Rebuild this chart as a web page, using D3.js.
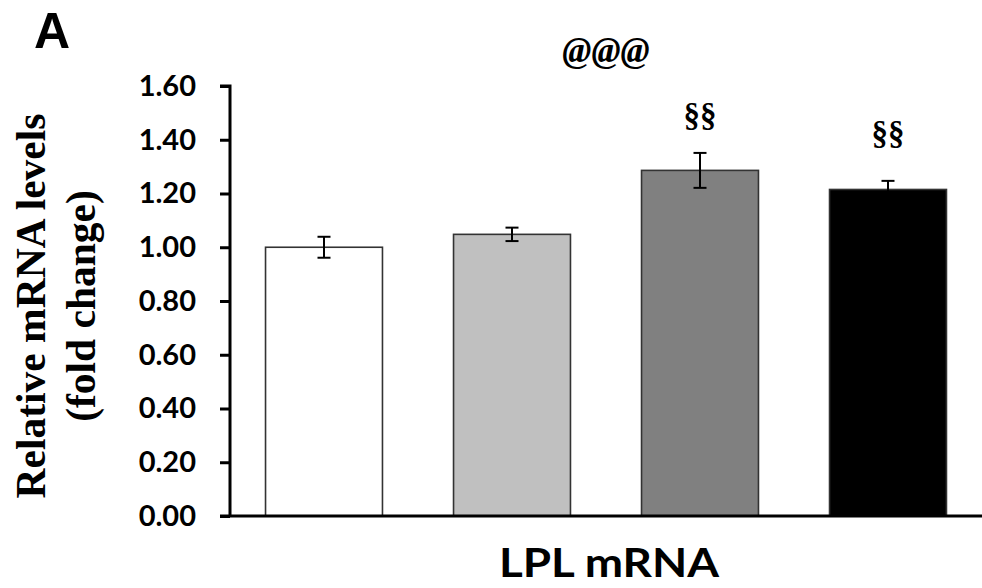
<!DOCTYPE html>
<html>
<head>
<meta charset="utf-8">
<script src="https://cdn.jsdelivr.net/npm/d3@7"></script>
<style>
  html, body { margin: 0; padding: 0; background: #fff; }
  svg { display: block; }
</style>
</head>
<body>
<svg id="chart" width="982" height="588"></svg>
<script>
// ---- data ----
const groups = ["G1", "G2", "G3", "G4"];
const values = [1.00, 1.048, 1.286, 1.215];
const errors = [0.039, 0.025, 0.065, 0.032];
const barColors = ["#ffffff", "#c0c0c0", "#808080", "#000000"];
const yTicks = [0, 0.2, 0.4, 0.6, 0.8, 1.0, 1.2, 1.4, 1.6];
const sigLabels = ["", "", "§§", "§§"];
const sigLevels = [null, null, 1.452, 1.385];
const topLabel = "@@@";
const topLabelLevel = 1.69;
const xTitle = "LPL mRNA";
const yTitleLines = ["Relative mRNA levels", "(fold change)"];
const panelLetter = "A";

// ---- layout ----
const svg = d3.select("#chart");
const x0 = 230, x1 = 982, yBottom = 516, yTop = 86;

const x = d3.scaleBand().domain(groups).range([x0, x1]).paddingInner(0.378).paddingOuter(0.189);
const y = d3.scaleLinear().domain([0, 1.6]).range([yBottom, yTop]);

// bars
svg.append("g").selectAll("rect").data(groups).join("rect")
  .attr("x", d => x(d))
  .attr("y", (d, i) => y(values[i]))
  .attr("width", x.bandwidth())
  .attr("height", (d, i) => y(0) - y(values[i]))
  .attr("fill", (d, i) => barColors[i])
  .attr("stroke", "#333")
  .attr("stroke-width", 1.6);

// error bars
const eb = svg.append("g").attr("stroke", "#000").attr("stroke-width", 2);
groups.forEach((g, i) => {
  const cx = x(g) + x.bandwidth() / 2;
  const yh = y(values[i] + errors[i]), yl = y(values[i] - errors[i]);
  eb.append("line").attr("x1", cx).attr("x2", cx).attr("y1", yh).attr("y2", yl);
  eb.append("line").attr("x1", cx - 6.5).attr("x2", cx + 6.5).attr("y1", yh).attr("y2", yh);
  eb.append("line").attr("x1", cx - 6.5).attr("x2", cx + 6.5).attr("y1", yl).attr("y2", yl);
});

// y axis
const yAxis = d3.axisLeft(y).tickValues(yTicks).tickFormat(d3.format(".2f")).tickSize(10).tickPadding(24);
const ya = svg.append("g").attr("transform", `translate(${x0},0)`).call(yAxis);
ya.select(".domain").attr("stroke", "#000").attr("stroke-width", 3)
  .attr("d", `M-10,${yTop}H0V${yBottom}`);
ya.selectAll(".tick line").attr("stroke", "#000").attr("stroke-width", 3);
ya.selectAll(".tick text")
  .attr("font-family", "Lato, 'Open Sans', sans-serif")
  .attr("font-weight", "bold")
  .attr("font-size", 29)
  .attr("fill", "#000");

// x axis baseline
const xAxis = d3.axisBottom(x).tickSize(0).tickFormat("");
const xa = svg.append("g").attr("transform", `translate(0,${yBottom})`).call(xAxis);
xa.select(".domain").attr("stroke", "#000").attr("stroke-width", 3).attr("d", `M${x0 - 10},0H${x1}`);

// significance labels
groups.forEach((g, i) => {
  if (!sigLabels[i]) return;
  svg.append("text")
    .attr("x", x(g) + x.bandwidth() / 2)
    .attr("y", y(sigLevels[i]))
    .attr("text-anchor", "middle")
    .attr("font-family", "'Liberation Serif', 'Times New Roman', serif")
    .attr("font-weight", "bold")
    .attr("font-size", 33)
    .attr("fill", "#000")
    .text(sigLabels[i]);
});

svg.append("text")
  .attr("x", (x(groups[1]) + x(groups[2]) + x.bandwidth()) / 2)
  .attr("y", y(topLabelLevel))
  .attr("text-anchor", "middle")
  .attr("font-family", "'Liberation Serif', 'Times New Roman', serif")
  .attr("font-style", "italic")
  .attr("font-weight", "bold")
  .attr("font-size", 35)
  .attr("fill", "#000")
  .text(topLabel);

// x title
svg.append("text")
  .attr("x", (x0 + x1) / 2 + 3)
  .attr("y", 577)
  .attr("text-anchor", "middle")
  .attr("font-family", "Lato, 'Open Sans', sans-serif")
  .attr("font-weight", "bold")
  .attr("font-size", 40)
  .attr("textLength", 220)
  .attr("lengthAdjust", "spacingAndGlyphs")
  .attr("fill", "#000")
  .text(xTitle);

// y title
const yt = svg.append("text")
  .attr("transform", `translate(0,306) rotate(-90)`)
  .attr("text-anchor", "middle")
  .attr("font-family", "'Liberation Serif', 'Times New Roman', serif")
  .attr("font-weight", "bold")
  .attr("font-size", 41.5)
  .attr("fill", "#000");
yt.append("tspan").attr("x", 0).attr("y", 45).text(yTitleLines[0]);
yt.append("tspan").attr("x", 0).attr("y", 95).text(yTitleLines[1]);

// panel letter
svg.append("text")
  .attr("x", 34)
  .attr("y", 48)
  .attr("font-family", "'Liberation Sans', Arial, sans-serif")
  .attr("font-weight", "bold")
  .attr("font-size", 50)
  .attr("fill", "#000")
  .text(panelLetter);
</script>
</body>
</html>
